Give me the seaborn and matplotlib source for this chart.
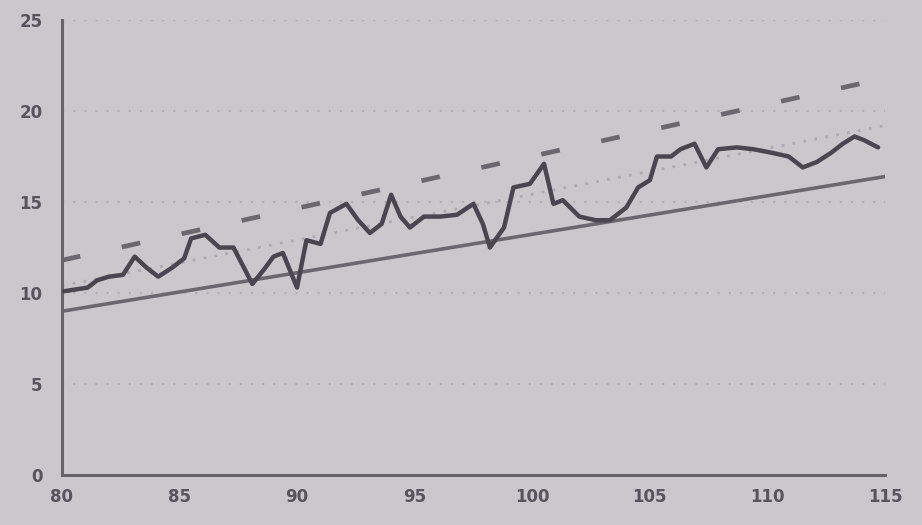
import matplotlib
matplotlib.use("Agg")
import matplotlib.pyplot as plt
import seaborn as sns
import pandas as pd

# Observed series
years = [80.1, 80.6, 81.1, 81.5, 82.0, 82.6, 83.1, 83.6, 84.1, 84.7, 85.2, 85.5,
         86.1, 86.7, 87.3, 88.1, 88.6, 89.0, 89.4, 90.0, 90.4, 91.0, 91.4, 92.1,
         92.6, 93.1, 93.6, 94.0, 94.4, 94.8, 95.4, 96.1, 96.8, 97.5, 97.9, 98.2,
         98.8, 99.2, 99.9, 100.5, 100.9, 101.3, 102.0, 102.7, 103.3, 104.0, 104.5,
         105.0, 105.3, 105.9, 106.3, 106.9, 107.4, 107.9, 108.7, 109.4, 110.2,
         110.9, 111.5, 112.1, 112.7, 113.2, 113.7, 114.1, 114.7]
values = [10.1, 10.2, 10.3, 10.7, 10.9, 11.0, 12.0, 11.4, 10.9, 11.4, 11.9, 13.0,
          13.2, 12.5, 12.5, 10.5, 11.3, 12.0, 12.2, 10.3, 12.9, 12.7, 14.4, 14.9,
          14.0, 13.3, 13.8, 15.4, 14.2, 13.6, 14.2, 14.2, 14.3, 14.9, 13.8, 12.5,
          13.6, 15.8, 16.0, 17.1, 14.9, 15.1, 14.2, 14.0, 14.0, 14.7, 15.8,
          16.2, 17.5, 17.5, 17.9, 18.2, 16.9, 17.9, 18.0, 17.9, 17.7,
          17.5, 16.9, 17.2, 17.7, 18.2, 18.6, 18.4, 18.0]

# Straight reference lines (endpoints)
line_x = [80, 115]
trend_y = [9.0, 16.4]
upper_y = [11.8, 21.8]
middle_y = [10.4, 19.2]

x_ticks = [80, 85, 90, 95, 100, 105, 110, 115]
y_ticks = [0, 5, 10, 15, 20, 25]

bg = "#cac8cd"
ink = "#4a4650"
soft = "#6c676e"
label_col = "#58535c"

sns.set_theme(style="white")
plt.rcParams["font.family"] = ["DejaVu Sans"]

fig = plt.figure(figsize=(9.22, 5.25), dpi=100)
fig.patch.set_facecolor(bg)
ax = fig.add_axes([0.067, 0.095, 0.893, 0.867])
ax.set_facecolor(bg)

# faint dotted grid rows
for yv in y_ticks[1:]:
    ax.axhline(yv, color="#b3b1b8", lw=1.6, linestyle=(0, (1, 4)), zorder=0)

lines = pd.DataFrame({"x": line_x, "trend": trend_y, "upper": upper_y, "middle": middle_y})
sns.lineplot(data=lines, x="x", y="middle", ax=ax, color="#adabb2", lw=2.0,
             linestyle=(0, (1, 3)), zorder=1)
sns.lineplot(data=lines, x="x", y="trend", ax=ax, color=soft, lw=2.6, zorder=2)
sns.lineplot(data=lines, x="x", y="upper", ax=ax, color=soft, lw=3.4,
             linestyle=(0, (4, 9)), zorder=2)

series = pd.DataFrame({"x": years, "y": values})
sns.lineplot(data=series, x="x", y="y", ax=ax, color=ink, lw=3.2, sort=False,
             zorder=3)

ax.set_xlim(80, 115)
ax.set_ylim(0, 25)
ax.set_xticks(x_ticks)
ax.set_yticks(y_ticks)
ax.set_xticklabels([str(t) for t in x_ticks], fontsize=12, fontweight="bold", color=label_col)
ax.set_yticklabels([str(t) for t in y_ticks], fontsize=12, fontweight="bold", color=label_col)
ax.tick_params(axis="x", length=0, pad=9)
ax.tick_params(axis="y", length=0, pad=14)
ax.set_xlabel("")
ax.set_ylabel("")

for side in ["top", "right"]:
    ax.spines[side].set_visible(False)
for side in ["left", "bottom"]:
    ax.spines[side].set_color("#68636b")
    ax.spines[side].set_linewidth(2.2)

fig.savefig("out.png", dpi=100, facecolor=bg)
